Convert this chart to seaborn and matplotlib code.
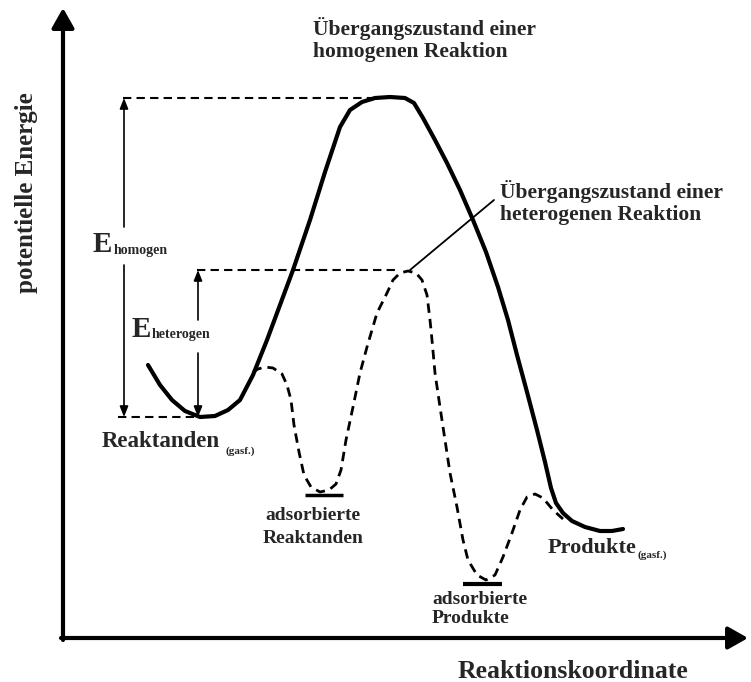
import matplotlib
matplotlib.use('Agg')
import seaborn as sns
import matplotlib.pyplot as plt
import pandas as pd

# reaction coordinate / potential energy (arbitrary units)
homo_coord = [84, 96, 108, 121, 136, 151, 164, 176, 189, 203, 216, 229, 246, 261, 276, 286, 298, 311, 326, 341,
              350, 359, 371, 383, 396, 409, 422, 434, 444, 453, 463, 473, 481, 487, 492, 499, 508, 521, 536, 548, 559]
homo_energy = [273, 253, 238, 227, 221, 222, 228, 238, 263, 298, 333, 368, 418, 466, 511, 528, 536, 540, 541, 540,
               535, 520, 498, 475, 448, 418, 386, 351, 318, 283, 246, 208, 176, 150, 135, 125, 117, 111, 107, 107, 109]

hetero_coord = [189, 194, 201, 209, 218, 223, 227, 230, 235, 240, 247, 256, 265, 272, 277, 282, 289, 296, 303, 313,
                323, 329, 336, 344, 352, 358, 363, 366, 368, 371, 376, 381, 386, 393, 399, 404, 413, 422, 431, 439,
                448, 456, 463, 471, 479, 489, 499]
hetero_energy = [266, 269, 271, 270, 264, 253, 238, 213, 186, 163, 151, 146, 148, 154, 168, 198, 231, 265, 291, 325,
                 345, 358, 365, 367, 365, 358, 343, 318, 298, 265, 231, 198, 165, 131, 98, 78, 63, 58, 63, 81,
                 105, 128, 141, 144, 140, 128, 119]

e_reactants = 221
e_ts_homo = 540
e_ts_hetero = 368
e_ads_reactants = 143
e_ads_products = 54

sns.set_style('white')
plt.rcParams['font.family'] = ['Liberation Serif', 'DejaVu Serif']
plt.rcParams['font.weight'] = 'bold'

fig = plt.figure(figsize=(7.51, 6.82), dpi=100)
ax = fig.add_axes([0, 0, 1, 1])
ax.set_xlim(-64, 687)
ax.set_ylim(-44, 638)
ax.axis('off')

homo = pd.DataFrame({'coord': homo_coord, 'energy': homo_energy})
hetero = pd.DataFrame({'coord': hetero_coord, 'energy': hetero_energy})

sns.lineplot(data=homo, x='coord', y='energy', sort=False, estimator=None,
             color='black', lw=3, ax=ax)
sns.lineplot(data=hetero, x='coord', y='energy', sort=False, estimator=None,
             color='black', lw=2, linestyle=(0, (3.4, 2.2)), ax=ax)

# adsorbed states
ax.plot([241, 279], [e_ads_reactants, e_ads_reactants], color='black', lw=2.5, solid_capstyle='butt')
ax.plot([399, 438], [e_ads_products, e_ads_products], color='black', lw=3, solid_capstyle='butt')

# dashed guide lines
guide = dict(color='black', lw=1.5, linestyle=(0, (4, 2.5)))
ax.plot([59, 311], [e_ts_homo, e_ts_homo], **guide)
ax.plot([133, 334], [e_ts_hetero, e_ts_hetero], **guide)
ax.plot([54, 136], [e_reactants, e_reactants], **guide)

# activation energy arrows
small = dict(arrowstyle='-|>,head_length=0.45,head_width=0.18', color='black', lw=1.2,
             mutation_scale=14, shrinkA=0, shrinkB=0)
ax.annotate('', xy=(60, e_ts_homo), xytext=(60, 411), arrowprops=small)
ax.annotate('', xy=(60, e_reactants), xytext=(60, 373), arrowprops=small)
ax.annotate('', xy=(134, e_ts_hetero), xytext=(134, 318), arrowprops=small)
ax.annotate('', xy=(134, e_reactants), xytext=(134, 285), arrowprops=small)

# pointer to heterogeneous transition state
ax.plot([346, 430], [e_ts_hetero, 438], color='black', lw=1.3)

# axes with arrows
big = dict(arrowstyle='-|>,head_length=0.6,head_width=0.34', color='black', lw=3,
           mutation_scale=20, shrinkA=0, shrinkB=0)
ax.annotate('', xy=(-1, 630), xytext=(-1, -2), arrowprops=big, annotation_clip=False)
ax.annotate('', xy=(684, 0), xytext=(-3, 0), arrowprops=big, annotation_clip=False)

# labels (multi-line texts are anchored at the baseline of their last line)
ax.text(249, 581, 'Übergangszustand einer\nhomogenen Reaktion', fontsize=15.5,
        va='baseline', linespacing=1.12)
ax.text(436, 418, 'Übergangszustand einer\nheterogenen Reaktion', fontsize=15.5,
        va='baseline', linespacing=1.15)

ax.text(29, 386, 'E', fontsize=21, va='baseline')
ax.text(50, 384, 'homogen', fontsize=10, va='baseline')
ax.text(68, 301, 'E', fontsize=21, va='baseline')
ax.text(88, 300, 'heterogen', fontsize=10, va='baseline')

ax.text(38, 191, 'Reaktanden', fontsize=16.5, va='baseline')
ax.text(161, 184, '(gasf.)', fontsize=8, va='baseline')
ax.text(249, 95, 'adsorbierte\nReaktanden', fontsize=14, va='baseline', ha='center',
        multialignment='center', linespacing=1.5)
ax.text(368, 15, 'adsorbierte\nProdukte', fontsize=14, va='baseline', linespacing=1.18)
ax.text(484, 85, 'Produkte', fontsize=16, va='baseline')
ax.text(574, 80, '(gasf.)', fontsize=8, va='baseline')

ax.text(394, -40, 'Reaktionskoordinate', fontsize=18.5, va='baseline')
ax.text(-37, 445, 'potentielle Energie', fontsize=18, rotation=90, ha='center', va='center')

fig.savefig('out.png', dpi=100)
